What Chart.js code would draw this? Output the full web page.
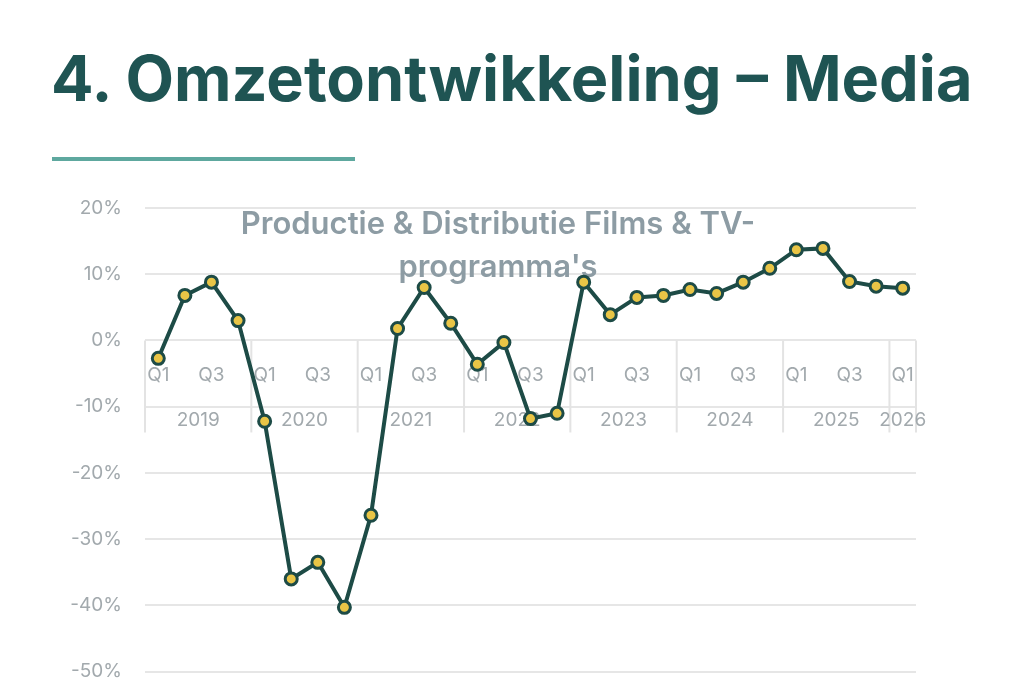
<!DOCTYPE html>
<html><head><meta charset="utf-8">
<script src="https://cdn.jsdelivr.net/npm/chart.js@4"></script>
<style>
html,body{margin:0;padding:0;background:#fff;width:1024px;height:694px;overflow:hidden;}
#title{position:absolute;left:51px;top:38px;font-family:Inter,sans-serif;font-weight:700;font-size:63px;color:#1f5453;white-space:nowrap;line-height:80px;}
#rule{position:absolute;left:52px;top:157px;width:303px;height:4px;background:#5ea89f;}
#wrap{position:absolute;left:0;top:0;width:1024px;height:706px;}
</style></head>
<body>
<div id="wrap"><canvas id="c" width="1024" height="706"></canvas></div>
<div id="title">4. Omzetontwikkeling – Media</div>
<div id="rule"></div>
<script>
const quarters = ['Q1','Q2','Q3','Q4','Q1','Q2','Q3','Q4','Q1','Q2','Q3','Q4','Q1','Q2','Q3','Q4','Q1','Q2','Q3','Q4','Q1','Q2','Q3','Q4','Q1','Q2','Q3','Q4','Q1'];
const years = ['2019','2019','2019','2019','2020','2020','2020','2020','2021','2021','2021','2021','2022','2022','2022','2022','2023','2023','2023','2023','2024','2024','2024','2024','2025','2025','2025','2025','2026'];
const values = [-2.7,6.8,8.8,3.0,-12.2,-36.0,-33.5,-40.3,-26.4,1.8,8.0,2.6,-3.6,-0.3,-11.8,-11.0,8.8,3.9,6.5,6.8,7.7,7.1,8.8,10.9,13.7,13.9,8.9,8.2,7.9];
const chartTitle = ['Productie & Distributie Films & TV-', "programma's"];
const yTicks = [20,10,0,-10,-20,-30,-40,-50];

const grey = '#a2a9ad';
const fontFam = 'Inter, sans-serif';

const yearPlugin = {
  id: 'yearPlugin',
  beforeDatasetsDraw(chart) {
    const ctx = chart.ctx, x = chart.scales.x, y = chart.scales.y;
    const y0 = y.getPixelForValue(0);
    const half = (x.getPixelForValue(1) - x.getPixelForValue(0)) / 2;
    const groups = [];
    years.forEach((yr, i) => {
      if (!groups.length || groups[groups.length-1].yr !== yr) groups.push({yr, s: i, e: i});
      else groups[groups.length-1].e = i;
    });
    ctx.save();
    ctx.strokeStyle = '#e3e3e3';
    ctx.lineWidth = 2;
    const bottom = y0 + 92;
    groups.forEach((g, k) => {
      const left = x.getPixelForValue(g.s) - half;
      const right = x.getPixelForValue(g.e) + half;
      ctx.beginPath(); ctx.moveTo(left, y0); ctx.lineTo(left, bottom); ctx.stroke();
      if (k === groups.length - 1) { ctx.beginPath(); ctx.moveTo(right, y0); ctx.lineTo(right, bottom); ctx.stroke(); }
      ctx.fillStyle = grey;
      ctx.font = '19px ' + fontFam;
      ctx.textAlign = 'center'; ctx.textBaseline = 'middle';
      ctx.fillText(g.yr, (left + right) / 2, y0 + 80);
    });
    ctx.fillStyle = '#8d9ca4';
    ctx.font = '600 31px ' + fontFam;
    ctx.textAlign = 'center'; ctx.textBaseline = 'middle';
    ctx.fillText(chartTitle[0], 498, 225);
    ctx.fillText(chartTitle[1], 498, 268);
    ctx.restore();
  }
};

new Chart(document.getElementById('c'), {
  type: 'line',
  data: {
    labels: quarters,
    datasets: [{
      data: values,
      borderColor: '#1d4b46',
      borderWidth: 4,
      pointBackgroundColor: '#e9c546',
      pointBorderColor: '#1d4b46',
      pointBorderWidth: 3,
      pointRadius: 6,
      tension: 0
    }]
  },
  options: {
    responsive: false,
    animation: false,
    devicePixelRatio: 1,
    layout: { padding: { left: 0, right: 108, top: 208, bottom: 11 } },
    plugins: { legend: { display: false }, tooltip: { enabled: false }, title: { display: false } },
    scales: {
      x: {
        position: { y: 0 },
        offset: true,
        border: { display: false },
        grid: { display: true, drawOnChartArea: false, drawTicks: true, tickLength: 23, color: 'rgba(0,0,0,0)' },
        ticks: {
          autoSkip: false, maxRotation: 0, color: grey, padding: 0,
          font: { family: fontFam, size: 19 },
          callback: (v, i) => (i % 2 === 0 ? quarters[i] : '')
        }
      },
      y: {
        min: -50, max: 20,
        afterFit(s) { s.width = 145; },
        afterBuildTicks(s) { s.ticks = yTicks.map(v => ({ value: v })); },
        border: { display: false },
        grid: { color: '#e6e6e6', lineWidth: 2, drawTicks: false },
        ticks: {
          color: grey, padding: 23,
          font: { family: fontFam, size: 19 },
          callback: v => v + '%'
        }
      }
    }
  },
  plugins: [yearPlugin]
});
</script>
</body></html>
